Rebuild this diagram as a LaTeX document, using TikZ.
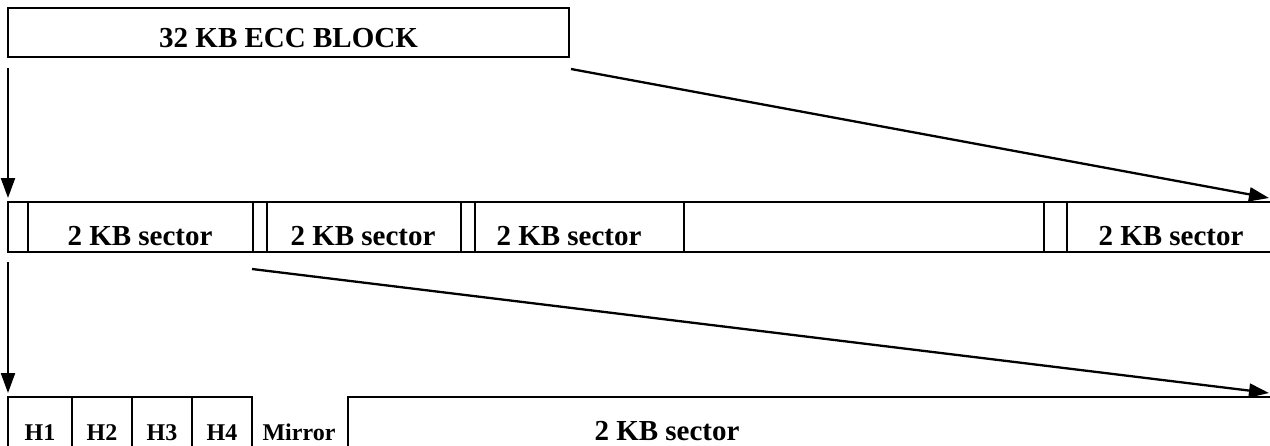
\documentclass[tikz,border=0pt]{standalone}
\usepackage{fontspec}
\setmainfont{Liberation Serif}
\usetikzlibrary{arrows.meta}
\tikzset{
  cell/.style={draw, line width=2.6pt, inner sep=0pt, outer sep=0pt, anchor=north west},
  lbl/.style={anchor=base, inner sep=0pt, font=\fontsize{29}{34}\selectfont\bfseries},
  slbl/.style={anchor=base, inner sep=0pt, font=\fontsize{24}{28}\selectfont\bfseries},
  conn/.style={line width=2.3pt, -{Triangle[length=20pt,width=14pt]}}
}
\begin{document}
\begin{tikzpicture}[x=1pt, y=-1pt]
\clip (0,0) rectangle (1270,445);
% top block
\node[cell, minimum width=561pt, minimum height=49pt] (ecc) at (8,8) {};
\node[lbl] (ecct) at (288.5,47) {32 KB ECC BLOCK};
% middle row
\node[cell, minimum width=20pt,  minimum height=50pt] (c0) at (8,202) {};
\node[cell, minimum width=225pt, minimum height=50pt] (s1) at (28,202) {};
\node[cell, minimum width=14pt,  minimum height=50pt] (c1) at (253,202) {};
\node[cell, minimum width=194pt, minimum height=50pt] (s2) at (267,202) {};
\node[cell, minimum width=14pt,  minimum height=50pt] (c2) at (461,202) {};
\node[cell, minimum width=209pt, minimum height=50pt] (s3) at (475,202) {};
\node[cell, minimum width=360pt, minimum height=50pt] (s4) at (684,202) {};
\node[cell, minimum width=23pt,  minimum height=50pt] (c4) at (1044,202) {};
\node[cell, minimum width=240pt, minimum height=50pt] (s5) at (1067,202) {};
\node[lbl] (s1t) at (140,245) {2 KB sector};
\node[lbl] (s2t) at (363,245) {2 KB sector};
\node[lbl] (s3t) at (569,245) {2 KB sector};
\node[lbl] (s5t) at (1171,245) {2 KB sector};
% bottom row
\node[cell, minimum width=64pt, minimum height=80pt] (h1) at (8,397) {};
\node[cell, minimum width=60pt, minimum height=80pt] (h2) at (72,397) {};
\node[cell, minimum width=60pt, minimum height=80pt] (h3) at (132,397) {};
\node[cell, minimum width=60pt, minimum height=80pt] (h4) at (192,397) {};
\node[cell, minimum width=1000pt, minimum height=80pt] (big) at (348,397) {};
\node[slbl] (h1t) at (40,440) {H1};
\node[slbl] (h2t) at (102,440) {H2};
\node[slbl] (h3t) at (162,440) {H3};
\node[slbl] (h4t) at (222,440) {H4};
\node[slbl] (mirt) at (299,440) {Mirror};
\node[lbl] (bigt) at (667,440) {2 KB sector};
% connectors
\coordinate (a1s) at ([yshift=-11pt]ecc.south west);
\coordinate (a1e) at ([yshift=4pt]c0.north west);
\coordinate (a2s) at ([shift={(2pt,-12pt)}]ecc.south east);
\coordinate (a2e) at (1269,198);
\coordinate (a3s) at ([yshift=-10pt]c0.south west);
\coordinate (a3e) at ([yshift=4pt]h1.north west);
\coordinate (a4s) at ([shift={(-1pt,-17pt)}]s1.south east);
\coordinate (a4e) at (1269,393);
\draw[conn] (a1s) -- (a1e);
\draw[conn] (a2s) -- (a2e);
\draw[conn] (a3s) -- (a3e);
\draw[conn] (a4s) -- (a4e);
\end{tikzpicture}
\end{document}
